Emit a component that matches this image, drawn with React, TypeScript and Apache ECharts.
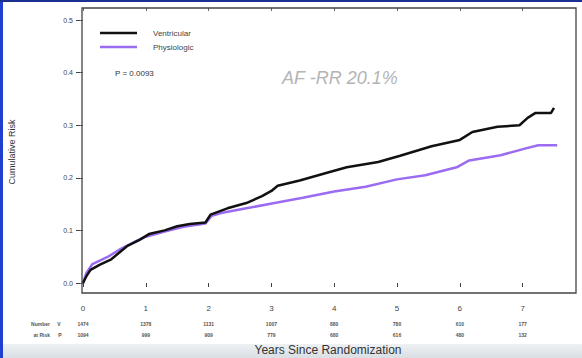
import React, { useEffect, useRef } from "react";
import * as echarts from "echarts";

const yearTicks = [0, 1, 2, 3, 4, 5, 6, 7];
const atRiskV = ["1474", "1378", "1131", "1007", "880", "780", "610", "177"];
const atRiskP = ["1094", "999", "909", "779", "680", "616", "480", "132"];

const ventT = [0, 0.05, 0.12, 0.27, 0.45, 0.55, 0.7, 0.9, 1.05, 1.3, 1.5, 1.7, 1.95, 2.03, 2.3, 2.6, 2.85, 3.0, 3.1, 3.45, 3.9, 4.2, 4.7, 5.05, 5.55, 6.0, 6.2, 6.6, 6.95, 7.08, 7.2, 7.45, 7.5];
const ventV = [0, 0.012, 0.025, 0.035, 0.045, 0.055, 0.07, 0.082, 0.093, 0.1, 0.108, 0.112, 0.115, 0.13, 0.142, 0.152, 0.165, 0.175, 0.185, 0.195, 0.21, 0.22, 0.23, 0.242, 0.26, 0.272, 0.287, 0.297, 0.3, 0.314, 0.323, 0.323, 0.333];

const physT = [0, 0.05, 0.15, 0.4, 0.6, 0.8, 1.0, 1.3, 1.6, 1.95, 2.05, 2.2, 2.6, 3.05, 3.5, 4.0, 4.5, 5.0, 5.45, 5.95, 6.15, 6.65, 7.05, 7.25, 7.55];
const physV = [0, 0.018, 0.036, 0.05, 0.065, 0.077, 0.088, 0.098, 0.107, 0.113, 0.128, 0.133, 0.142, 0.152, 0.162, 0.174, 0.183, 0.197, 0.205, 0.22, 0.233, 0.243, 0.256, 0.262, 0.262];

const FONT = "Liberation Sans, Arial, sans-serif";

export default function App() {
  const ref = useRef<HTMLDivElement>(null);
  useEffect(() => {
    document.body.style.margin = "0";
    if (!ref.current) return;
    const chart = echarts.init(ref.current, null, { renderer: "svg" });
    const hiddenAxisBase = {
      type: "value" as const,
      min: 0,
      max: 7.85,
      interval: 1,
      splitLine: { show: false },
      axisLine: { show: false },
      axisTick: { show: false },
    };
    chart.setOption({
      animation: false,
      backgroundColor: "#ffffff",
      grid: { left: 83, right: 6, top: 20, bottom: 75 },
      xAxis: [
        {
          ...hiddenAxisBase,
          position: "bottom",
          offset: 10,
          axisTick: { show: true, length: 4, inside: false, customValues: yearTicks, lineStyle: { color: "#444", width: 1 } },
          axisLabel: {
            customValues: yearTicks,
            margin: 15,
            verticalAlign: "middle",
            fontSize: 8,
            color: "#444",
            fontFamily: FONT,
            formatter: (v: number) => String(v),
          },
        },
        {
          ...hiddenAxisBase,
          position: "bottom",
          offset: 41,
          axisLabel: {
            customValues: yearTicks,
            margin: 0,
            verticalAlign: "middle",
            fontSize: 5,
            color: "#555",
            fontWeight: "bold",
            fontFamily: FONT,
            formatter: (v: number) => atRiskV[v] ?? "",
          },
        },
        {
          ...hiddenAxisBase,
          position: "bottom",
          offset: 52,
          axisLabel: {
            customValues: yearTicks,
            margin: 0,
            verticalAlign: "middle",
            fontSize: 5,
            color: "#555",
            fontWeight: "bold",
            fontFamily: FONT,
            formatter: (v: number) => atRiskP[v] ?? "",
          },
        },
        {
          ...hiddenAxisBase,
          position: "top",
          offset: 12,
          axisTick: { show: true, length: 3, inside: true, customValues: yearTicks, lineStyle: { color: "#666" } },
          axisLabel: { show: false },
        },
      ],
      yAxis: [
        {
          type: "value",
          min: 0,
          max: 0.5,
          interval: 0.1,
          splitLine: { show: false },
          axisLine: { show: false },
          axisTick: { show: true, length: 7, inside: false, lineStyle: { color: "#444", width: 1 } },
          axisLabel: {
            margin: 10,
            fontSize: 7,
            color: "#444",
            fontFamily: FONT,
            formatter: (v: number) => v.toFixed(1),
          },
        },
        {
          type: "value",
          position: "right",
          min: 0,
          max: 0.5,
          interval: 0.1,
          splitLine: { show: false },
          axisLine: { show: false },
          axisTick: { show: true, length: 3, inside: true, lineStyle: { color: "#666" } },
          axisLabel: { show: false },
        },
      ],
      series: [
        {
          type: "line",
          name: "Physiologic",
          showSymbol: false,
          data: physT.map((t, i) => [t, physV[i]]),
          lineStyle: { color: "#9b6cf2", width: 2.5 },
          z: 3,
        },
        {
          type: "line",
          name: "Ventricular",
          showSymbol: false,
          data: ventT.map((t, i) => [t, ventV[i]]),
          lineStyle: { color: "#111111", width: 2.5 },
          z: 4,
        },
      ],
      graphic: [
        { type: "rect", shape: { x: 0, y: 0, width: 3, height: 358 }, style: { fill: "#1f3fd0" }, z: 10 },
        { type: "rect", shape: { x: 0, y: 0, width: 582, height: 2 }, style: { fill: "#1a2f90" }, z: 10 },
        {
          type: "rect",
          shape: { x: 3, y: 344, width: 579, height: 14 },
          style: {
            fill: new echarts.graphic.LinearGradient(0, 0, 0, 1, [
              { offset: 0, color: "#eef1f3" },
              { offset: 1, color: "#d9dfe4" },
            ]),
          },
          z: -1,
        },
        {
          type: "rect",
          shape: { x: 82, y: 8, width: 494, height: 285 },
          style: { fill: "none", stroke: "#444", lineWidth: 1.3 },
          z: 5,
        },
        { type: "line", shape: { x1: 100, y1: 33, x2: 137, y2: 33 }, style: { stroke: "#111", lineWidth: 2.5 }, z: 6 },
        { type: "line", shape: { x1: 100, y1: 47, x2: 137, y2: 47 }, style: { stroke: "#9b6cf2", lineWidth: 2.5 }, z: 6 },
        { type: "text", x: 153, y: 33, style: { text: "Ventricular", fontSize: 8, fill: "#444", fontFamily: FONT, verticalAlign: "middle" }, z: 6 },
        { type: "text", x: 153, y: 47, style: { text: "Physiologic", fontSize: 8, fill: "#444", fontFamily: FONT, verticalAlign: "middle" }, z: 6 },
        { type: "text", x: 115, y: 73, style: { text: "P = 0.0093", fontSize: 8, fill: "#333", fontFamily: FONT, verticalAlign: "middle" }, z: 6 },
        {
          type: "text",
          x: 282,
          y: 78,
          style: { text: "AF -RR 20.1%", fontSize: 18, fontStyle: "italic", fill: "#b4b4b4", fontFamily: FONT, verticalAlign: "middle" },
          z: 6,
        },
        {
          type: "text",
          x: 12,
          y: 152,
          rotation: Math.PI / 2,
          style: { text: "Cumulative Risk", fontSize: 9, fill: "#333", fontFamily: FONT, align: "center", verticalAlign: "middle" },
          z: 6,
        },
        { type: "text", x: 50, y: 324, style: { text: "Number", fontSize: 5, fontWeight: "bold", fill: "#555", fontFamily: FONT, align: "right", verticalAlign: "middle" }, z: 6 },
        { type: "text", x: 59, y: 324, style: { text: "V", fontSize: 5, fontWeight: "bold", fill: "#555", fontFamily: FONT, align: "center", verticalAlign: "middle" }, z: 6 },
        { type: "text", x: 50, y: 335, style: { text: "at Risk", fontSize: 5, fontWeight: "bold", fill: "#555", fontFamily: FONT, align: "right", verticalAlign: "middle" }, z: 6 },
        { type: "text", x: 60, y: 335, style: { text: "P", fontSize: 5, fontWeight: "bold", fill: "#555", fontFamily: FONT, align: "center", verticalAlign: "middle" }, z: 6 },
        {
          type: "text",
          x: 328,
          y: 350,
          style: { text: "Years Since Randomization", fontSize: 12, fill: "#333", fontFamily: FONT, align: "center", verticalAlign: "middle" },
          z: 6,
        },
      ],
    });
    return () => chart.dispose();
  }, []);
  return <div ref={ref} style={{ position: "fixed", left: 0, top: 0, width: 582, height: 358 }} />;
}
